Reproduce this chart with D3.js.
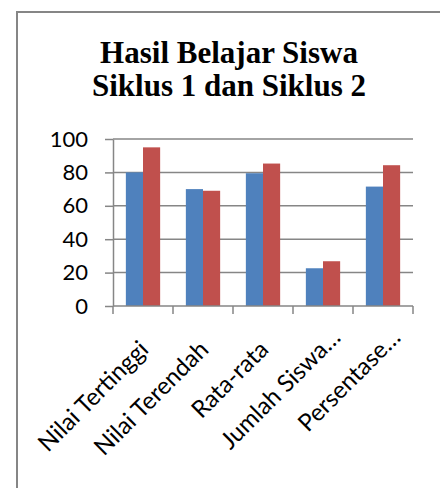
<!DOCTYPE html>
<html>
<head>
<meta charset="utf-8">
<script src="https://cdn.jsdelivr.net/npm/d3@7"></script>
<style>
  body { margin: 0; background: #fff; }
  svg { display: block; }
</style>
</head>
<body>
<svg id="chart"></svg>
<script>
// values
const categories = ["Nilai Tertinggi", "Nilai Terendah", "Rata-rata", "Jumlah Siswa…", "Persentase…"];
const seriesNames = ["Siklus 1", "Siklus 2"];
const siklus1 = [80, 70, 79.5, 22.6, 71.5];
const siklus2 = [95, 69, 85.3, 26.8, 84.3];
const yTicks = [0, 20, 40, 60, 80, 100];
const titleLines = ["Hasil Belajar Siswa", "Siklus 1 dan Siklus 2"];

const colors = ["#4F81BD", "#C0504D"];
const labelFont = "Lato, 'Liberation Sans', Arial, sans-serif";

function main() {
    let width = 440, height = 488;
    let svg = d3.select("#chart")
        .attr("width", width)
        .attr("height", height);

    // chart frame (right and bottom run off the picture)
    svg.append("rect")
        .attr("x", 17).attr("y", 12)
        .attr("width", 460).attr("height", 500)
        .attr("fill", "none")
        .attr("stroke", "#868686")
        .attr("stroke-width", 2);

    // title
    svg.append("text")
        .attr("x", 229)
        .attr("y", 63)
        .attr("text-anchor", "middle")
        .style("font-family", "'Liberation Serif', 'Times New Roman', serif")
        .style("font-weight", "bold")
        .style("font-size", "31px")
        .selectAll("tspan")
        .data(titleLines)
        .join("tspan")
        .attr("x", 229)
        .attr("dy", (d, i) => i === 0 ? 0 : 33)
        .text(d => d);

    let left = 113, right = 413, top = 139, bottom = 306;

    let x = d3.scaleBand().domain(categories).range([left, right]).padding(0);
    // Excel style gap width 150%
    let gap = x.bandwidth() * 1.5 / 3.5;
    let x1 = d3.scaleBand().domain(seriesNames).range([gap / 2, x.bandwidth() - gap / 2]).padding(0);
    let y = d3.scaleLinear().domain([0, 100]).range([bottom, top]);

    // gridlines
    svg.append("g")
        .selectAll("line")
        .data(yTicks.filter(t => t > 0))
        .join("line")
        .attr("x1", left).attr("x2", right)
        .attr("y1", d => y(d)).attr("y2", d => y(d))
        .attr("stroke", "#868686")
        .attr("stroke-width", 1.5);

    // bars
    let rows = categories.map((c, i) => ({ cat: c, vals: [siklus1[i], siklus2[i]] }));
    let groups = svg.append("g")
        .selectAll("g")
        .data(rows)
        .join("g")
        .attr("transform", d => `translate(${x(d.cat)},0)`);
    groups.selectAll("rect")
        .data(d => d.vals.map((v, j) => ({ name: seriesNames[j], v: v, j: j })))
        .join("rect")
        .attr("x", d => x1(d.name))
        .attr("y", d => y(d.v))
        .attr("width", x1.bandwidth())
        .attr("height", d => bottom - y(d.v))
        .attr("fill", d => colors[d.j]);

    // y axis
    let yAxis = svg.append("g")
        .attr("transform", `translate(${left},0)`)
        .call(d3.axisLeft(y).tickValues(yTicks).tickSize(8).tickPadding(17).tickSizeOuter(0));
    yAxis.select(".domain").attr("stroke", "#868686").attr("stroke-width", 1.5);
    yAxis.selectAll(".tick line").attr("stroke", "#868686").attr("stroke-width", 1.5);
    yAxis.selectAll(".tick text")
        .style("font-family", labelFont)
        .style("font-size", "22px")
        .attr("fill", "#000");

    // x axis baseline and ticks at band edges
    let xg = svg.append("g");
    xg.append("line")
        .attr("x1", left).attr("x2", right)
        .attr("y1", bottom).attr("y2", bottom)
        .attr("stroke", "#868686").attr("stroke-width", 1.5);
    let edges = categories.map(c => x(c)).concat([right]);
    xg.selectAll("line.tk")
        .data(edges)
        .join("line")
        .attr("class", "tk")
        .attr("x1", d => d).attr("x2", d => d)
        .attr("y1", bottom).attr("y2", bottom + 8)
        .attr("stroke", "#868686").attr("stroke-width", 1.5);

    // rotated category labels (cut-off labels sit a bit further up the slope, like Excel)
    xg.selectAll("text")
        .data(categories)
        .join("text")
        .attr("transform", d => `translate(${x(d) + x.bandwidth() / 2 + 1},${bottom + 39}) rotate(-45)`)
        .attr("text-anchor", "end")
        .attr("dx", d => d.endsWith("…") ? 17 : 0)
        .attr("dy", "0.35em")
        .style("font-family", labelFont)
        .style("font-size", "24px")
        .attr("fill", "#000")
        .text(d => d);
}

main();
</script>
</body>
</html>
